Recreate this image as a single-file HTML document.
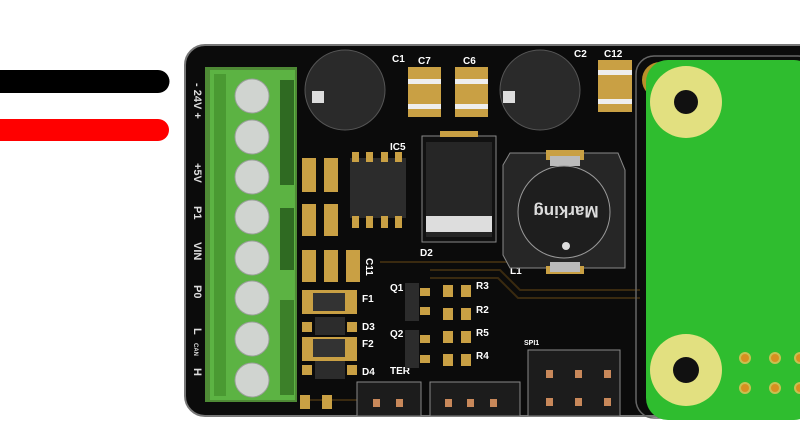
<!DOCTYPE html>
<html><head><meta charset="utf-8"><style>html,body{margin:0;padding:0;background:#fff;width:800px;height:421px;overflow:hidden}svg{display:block}text{font-family:"Liberation Sans",sans-serif;font-weight:bold}</style></head><body>
<svg width="800" height="421" viewBox="0 0 800 421" xmlns="http://www.w3.org/2000/svg">
<rect width="800" height="421" fill="#fff"/>
<!-- wires -->
<line x1="0" y1="81.5" x2="158" y2="81.5" stroke="#000" stroke-width="23" stroke-linecap="round"/>
<line x1="0" y1="130" x2="158" y2="130" stroke="#f00" stroke-width="22" stroke-linecap="round"/>
<!-- board -->
<rect x="185" y="45" width="640" height="371" rx="20" fill="#0b0b0b" stroke="#777" stroke-width="2"/>
<!-- traces -->
<g stroke="#3a2a10" stroke-width="2" fill="none">
<path d="M430 270 L500 270 L520 290 L640 290"/><path d="M430 278 L498 278 L518 298 L640 298"/>
<path d="M380 262 L620 262"/><path d="M300 400 L360 400"/>
</g>
<!-- terminal block -->
<rect x="205" y="67" width="92" height="335" fill="#4e8a35"/>
<rect x="210" y="70" width="85" height="330" fill="#5cb343"/>
<rect x="214" y="74" width="12" height="322" fill="#4a9a32"/>
<rect x="280" y="80" width="14" height="105" fill="#2f6a22"/>
<rect x="280" y="208" width="14" height="62" fill="#2f6a22"/>
<rect x="280" y="300" width="14" height="95" fill="#3c8029"/>
<g fill="#d0d4d0" stroke="#9aa09a" stroke-width="1">
<circle cx="252" cy="96" r="17"/><circle cx="252" cy="137" r="17"/><circle cx="252" cy="177" r="17"/><circle cx="252" cy="217" r="17"/><circle cx="252" cy="258" r="17"/><circle cx="252" cy="298" r="17"/><circle cx="252" cy="339" r="17"/><circle cx="252" cy="380" r="17"/>
</g>
<!-- vertical labels -->
<g fill="#ddd" font-size="11">
<text transform="translate(194,83) rotate(90)">- 24V +</text>
<text transform="translate(194,163) rotate(90)">+5V</text>
<text transform="translate(194,206) rotate(90)">P1</text>
<text transform="translate(194,242) rotate(90)">VIN</text>
<text transform="translate(194,285) rotate(90)">P0</text>
<text transform="translate(194,328) rotate(90)">L</text>
<text transform="translate(194,343) rotate(90)" font-size="6">CAN</text>
<text transform="translate(194,368) rotate(90)">H</text>
</g>
<!-- caps -->
<circle cx="345" cy="90" r="40" fill="#2a2a2a" stroke="#555"/>
<rect x="312" y="91" width="12" height="12" fill="#ddd"/>
<circle cx="540" cy="90" r="40" fill="#2a2a2a" stroke="#555"/>
<rect x="503" y="91" width="12" height="12" fill="#ddd"/>
<g fill="#c9a044">
<rect x="408" y="67" width="33" height="50"/><rect x="455" y="67" width="33" height="50"/><rect x="598" y="60" width="34" height="52"/>
</g>
<g fill="#eee"><rect x="408" y="79" width="33" height="5"/><rect x="408" y="104" width="33" height="5"/><rect x="455" y="79" width="33" height="5"/><rect x="455" y="104" width="33" height="5"/><rect x="598" y="70" width="34" height="5"/><rect x="598" y="99" width="34" height="5"/></g>
<g fill="#fff" font-size="10">
<text x="392" y="62">C1</text><text x="418" y="64">C7</text><text x="463" y="64">C6</text><text x="574" y="57">C2</text><text x="604" y="57">C12</text>
<text x="390" y="150">IC5</text><text x="420" y="256">D2</text><text x="510" y="274">L1</text>
<text x="362" y="302">F1</text><text x="362" y="330">D3</text><text x="362" y="347">F2</text><text x="362" y="375">D4</text>
<text x="390" y="291">Q1</text><text x="390" y="337">Q2</text><text x="390" y="374">TER</text>
<text x="476" y="289">R3</text><text x="476" y="313">R2</text><text x="476" y="336">R5</text><text x="476" y="359">R4</text>
<text x="524" y="345" font-size="7">SPI1</text>
<text transform="translate(366,258) rotate(90)" font-size="10">C11</text>
</g>
<!-- IC5 -->
<rect x="350" y="158" width="56" height="60" fill="#2c2c2c"/>
<g fill="#c9a044"><rect x="352" y="152" width="7" height="10"/><rect x="366" y="152" width="7" height="10"/><rect x="381" y="152" width="7" height="10"/><rect x="395" y="152" width="7" height="10"/><rect x="352" y="216" width="7" height="12"/><rect x="366" y="216" width="7" height="12"/><rect x="381" y="216" width="7" height="12"/><rect x="395" y="216" width="7" height="12"/></g>
<!-- small pads -->
<g fill="#c9a044">
<rect x="302" y="158" width="14" height="34"/><rect x="324" y="158" width="14" height="34"/>
<rect x="302" y="204" width="14" height="32"/><rect x="324" y="204" width="14" height="32"/>
<rect x="302" y="250" width="14" height="32"/><rect x="324" y="250" width="14" height="32"/><rect x="346" y="250" width="14" height="32"/>
<rect x="302" y="290" width="55" height="24"/><rect x="302" y="337" width="55" height="24"/>
<rect x="302" y="322" width="10" height="10"/><rect x="347" y="322" width="10" height="10"/><rect x="302" y="365" width="10" height="10"/><rect x="347" y="365" width="10" height="10"/>
<rect x="443" y="285" width="10" height="12"/><rect x="461" y="285" width="10" height="12"/>
<rect x="443" y="308" width="10" height="12"/><rect x="461" y="308" width="10" height="12"/>
<rect x="443" y="331" width="10" height="12"/><rect x="461" y="331" width="10" height="12"/>
<rect x="443" y="354" width="10" height="12"/><rect x="461" y="354" width="10" height="12"/>
<rect x="420" y="288" width="10" height="8"/><rect x="420" y="307" width="10" height="8"/><rect x="420" y="335" width="10" height="8"/><rect x="420" y="355" width="10" height="8"/>
<rect x="300" y="395" width="10" height="14"/><rect x="322" y="395" width="10" height="14"/>
</g>
<rect x="313" y="293" width="32" height="18" fill="#333"/><rect x="313" y="339" width="32" height="18" fill="#333"/>
<rect x="315" y="317" width="30" height="18" fill="#2c2c2c"/><rect x="315" y="361" width="30" height="18" fill="#2c2c2c"/>
<rect x="405" y="283" width="14" height="38" fill="#2c2c2c"/><rect x="405" y="330" width="14" height="38" fill="#2c2c2c"/>
<!-- D2 -->
<rect x="422" y="136" width="74" height="106" fill="#111" stroke="#888"/>
<rect x="426" y="142" width="66" height="95" fill="#262626"/>
<rect x="426" y="216" width="66" height="16" fill="#ddd"/>
<rect x="440" y="131" width="38" height="6" fill="#c9a044"/>
<!-- L1 -->
<polygon points="510,153 618,153 625,170 625,268 510,268 503,255 503,165" fill="#262626" stroke="#888"/>
<rect x="546" y="150" width="38" height="10" fill="#c9a044"/><rect x="546" y="266" width="38" height="8" fill="#c9a044"/>
<rect x="550" y="156" width="30" height="10" fill="#bbb"/><rect x="550" y="262" width="30" height="10" fill="#bbb"/>
<circle cx="564" cy="212" r="46" fill="#1e1e1e" stroke="#999"/>
<text transform="translate(566,212) rotate(180)" fill="#ddd" font-size="17" text-anchor="middle" dy="6">Marking</text>
<circle cx="566" cy="246" r="4" fill="#ddd"/>
<!-- headers -->
<rect x="357" y="382" width="64" height="34" fill="#1c1c1c" stroke="#888"/>
<rect x="430" y="382" width="90" height="34" fill="#1c1c1c" stroke="#888"/>
<rect x="528" y="350" width="92" height="66" fill="#1c1c1c" stroke="#888"/>
<g fill="#c8885a">
<rect x="373" y="399" width="7" height="8"/><rect x="396" y="399" width="7" height="8"/>
<rect x="445" y="399" width="7" height="8"/><rect x="467" y="399" width="7" height="8"/><rect x="490" y="399" width="7" height="8"/>
<rect x="546" y="370" width="7" height="8"/><rect x="575" y="370" width="7" height="8"/><rect x="604" y="370" width="7" height="8"/>
<rect x="546" y="398" width="7" height="8"/><rect x="575" y="398" width="7" height="8"/><rect x="604" y="398" width="7" height="8"/>
</g>
<!-- green board -->
<rect x="636" y="56" width="180" height="362" rx="18" fill="none" stroke="#666" stroke-width="1.5"/>
<circle cx="660" cy="80" r="18" fill="#b8902a"/>
<rect x="646" y="60" width="170" height="360" rx="22" fill="#2fbd2f"/>
<circle cx="686" cy="102" r="36" fill="#e2e080"/><circle cx="686" cy="102" r="12" fill="#111"/>
<circle cx="686" cy="370" r="36" fill="#e2e080"/><circle cx="686" cy="370" r="13" fill="#111"/>
<g fill="#d89020" stroke="#c8c050" stroke-width="2">
<circle cx="745" cy="358" r="5"/><circle cx="775" cy="358" r="5"/><circle cx="800" cy="358" r="5"/>
<circle cx="745" cy="388" r="5"/><circle cx="775" cy="388" r="5"/><circle cx="800" cy="388" r="5"/>
</g>
</svg>
</body></html>
